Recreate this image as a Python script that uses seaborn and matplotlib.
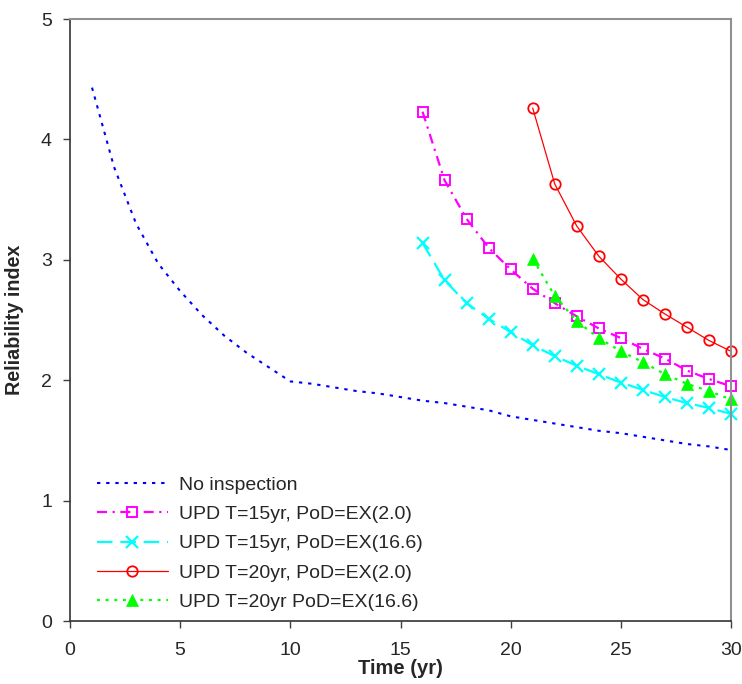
import numpy as np
import pandas as pd
import matplotlib
matplotlib.use("Agg")
import matplotlib.pyplot as plt
import seaborn as sns

# ---- data ----
t_none = list(range(1, 31))
beta_none = [4.43, 3.77, 3.30, 2.97, 2.74, 2.54, 2.37, 2.23, 2.11, 1.99,
             1.97, 1.94, 1.91, 1.89, 1.86, 1.83, 1.81, 1.78, 1.75, 1.70,
             1.67, 1.64, 1.61, 1.58, 1.56, 1.53, 1.50, 1.47, 1.45, 1.42]

t_15 = list(range(16, 31))
beta_15_ex2 = [4.23, 3.66, 3.34, 3.10, 2.92, 2.76, 2.64, 2.53, 2.43, 2.35,
               2.26, 2.18, 2.08, 2.01, 1.95]
beta_15_ex166 = [3.14, 2.83, 2.64, 2.51, 2.40, 2.29, 2.20, 2.12, 2.05, 1.98,
                 1.92, 1.86, 1.81, 1.77, 1.72]

t_20 = list(range(21, 31))
beta_20_ex2 = [4.26, 3.63, 3.28, 3.03, 2.84, 2.67, 2.55, 2.44, 2.33, 2.24]
beta_20_ex166 = [3.01, 2.70, 2.49, 2.35, 2.24, 2.15, 2.05, 1.97, 1.91, 1.84]

labels = ["No inspection",
          "UPD T=15yr, PoD=EX(2.0)",
          "UPD T=15yr, PoD=EX(16.6)",
          "UPD T=20yr, PoD=EX(2.0)",
          "UPD T=20yr PoD=EX(16.6)"]

x_ticks = [0, 5, 10, 15, 20, 25, 30]
y_ticks = [0, 1, 2, 3, 4, 5]

# ---- style ----
sns.set_style("white")
plt.rcParams['font.family'] = ['Liberation Sans', 'DejaVu Sans']

fig = plt.figure(figsize=(7.42, 6.84), dpi=100)
ax = fig.add_axes([70/742, 1-621/684, (731-70)/742, (621-19)/684])

common = dict(ax=ax, errorbar=None, clip_on=False)

sns.lineplot(x=t_none, y=beta_none, color="#0000FF", lw=1.5,
             linestyle=(0, (1.6, 2.8)), label=labels[0], **common)
sns.lineplot(x=t_15, y=beta_15_ex2, color="#FF00FF", lw=1.6,
             linestyle=(0, (4.5, 2.5, 1, 2.5)), marker="s", markersize=7,
             markerfacecolor="none", markeredgecolor="#FF00FF",
             markeredgewidth=1.4, label=labels[1], **common)
sns.lineplot(x=t_15, y=beta_15_ex166, color="#00FFFF", lw=1.6,
             linestyle=(0, (7, 3.5)), marker="x", markersize=9,
             markeredgecolor="#00FFFF", markeredgewidth=1.6,
             label=labels[2], **common)
sns.lineplot(x=t_20, y=beta_20_ex2, color="#FF0000", lw=0.9,
             linestyle="-", marker="o", markersize=7.5,
             markerfacecolor="none", markeredgecolor="#FF0000",
             markeredgewidth=1.3, label=labels[3], **common)
sns.lineplot(x=t_20, y=beta_20_ex166, color="#00FF00", lw=1.6,
             linestyle=(0, (1.3, 2.6)), marker="^", markersize=9,
             markerfacecolor="#00FF00", markeredgecolor="#00FF00",
             markeredgewidth=0.5, label=labels[4], **common)

ax.set_xlim(0, 30)
ax.set_ylim(0, 5)
ax.set_xticks(x_ticks)
ax.set_yticks(y_ticks)
tick_font = dict(family=['Liberation Sans', 'DejaVu Sans'], size=14)
ax.set_xticklabels([str(v) for v in x_ticks], fontdict=tick_font)
ax.set_yticklabels([str(v) for v in y_ticks], fontdict=tick_font)
ax.tick_params(axis='x', direction='out', length=5, width=1, color='#404040', pad=10,
               bottom=True)
ax.tick_params(axis='y', direction='out', length=5, width=1, color='#404040', pad=8,
               left=True)

for side in ['top', 'right']:
    ax.spines[side].set_color('#909090')
    ax.spines[side].set_linewidth(1.5)
for side in ['left', 'bottom']:
    ax.spines[side].set_color('#333333')
    ax.spines[side].set_linewidth(1.2)

ax.set_xlabel("Time (yr)", fontsize=14.5, fontweight='bold', labelpad=0)
ax.set_ylabel("Reliability index", fontsize=14.2, fontweight='bold', labelpad=12)

leg = ax.legend(loc='lower left', bbox_to_anchor=((97 - 70)/661, (621 - 611)/602),
                frameon=False, fontsize=14, handlelength=3.65, handletextpad=0.57,
                labelspacing=0.6, borderaxespad=0, borderpad=0)

fig.savefig("out.png", dpi=100)
